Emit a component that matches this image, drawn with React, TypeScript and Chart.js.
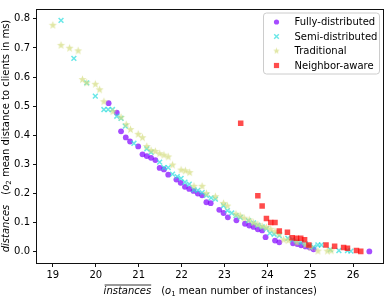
import React, { useEffect, useRef } from "react";
import { Chart, registerables } from "chart.js";

Chart.register(...registerables);

// ---- data ----
const fullyDistributed: [number, number][] = [
  [20.30, 0.510], [20.49, 0.477], [20.59, 0.413], [20.70, 0.392], [20.80, 0.378],
  [20.99, 0.361], [21.09, 0.334], [21.19, 0.328], [21.29, 0.322], [21.39, 0.314],
  [21.49, 0.287], [21.59, 0.282], [21.69, 0.264], [21.88, 0.247], [21.98, 0.236],
  [22.08, 0.222], [22.18, 0.215], [22.28, 0.208], [22.38, 0.199], [22.48, 0.193],
  [22.58, 0.169], [22.68, 0.166], [22.88, 0.143], [22.98, 0.132], [23.08, 0.117],
  [23.28, 0.107], [23.48, 0.095], [23.58, 0.089], [23.68, 0.084], [23.78, 0.076],
  [23.88, 0.072], [23.96, 0.049], [24.18, 0.037], [24.28, 0.031], [24.60, 0.028],
  [24.70, 0.025], [24.79, 0.021], [24.89, 0.017], [24.99, 0.013], [25.08, 0.007],
  [26.38, 0.0],
];

const semiDistributed: [number, number][] = [
  [19.19, 0.795], [19.49, 0.664], [19.79, 0.580], [19.99, 0.534], [20.19, 0.488],
  [20.29, 0.488], [20.39, 0.488], [20.49, 0.465], [20.59, 0.458], [20.69, 0.431],
  [20.89, 0.372], [21.19, 0.353], [21.29, 0.341], [21.49, 0.307], [21.59, 0.288],
  [21.69, 0.288], [21.79, 0.266], [21.90, 0.257], [21.99, 0.251], [22.08, 0.238],
  [22.18, 0.231], [22.29, 0.212], [22.38, 0.210], [22.48, 0.202], [22.58, 0.193],
  [22.69, 0.184], [22.79, 0.180], [22.98, 0.157], [23.07, 0.140], [23.17, 0.132],
  [23.27, 0.123], [23.37, 0.117], [23.56, 0.106], [23.68, 0.098], [23.78, 0.090],
  [23.88, 0.084], [23.98, 0.078], [24.06, 0.063], [24.16, 0.059], [24.28, 0.054],
  [24.48, 0.045], [24.59, 0.040], [24.69, 0.035], [24.79, 0.030], [24.89, 0.026],
  [24.99, 0.020], [25.08, 0.015], [25.18, 0.022], [25.26, 0.022], [25.47, 0.006],
  [25.67, 0.003], [25.87, 0.003], [25.95, 0.001],
];

const traditional: [number, number][] = [
  [19.00, 0.778], [19.19, 0.709], [19.39, 0.699], [19.59, 0.690], [19.69, 0.591],
  [19.79, 0.580], [19.99, 0.575], [20.09, 0.556], [20.19, 0.515], [20.40, 0.481],
  [20.59, 0.461], [20.71, 0.436], [20.81, 0.419], [20.99, 0.403], [21.09, 0.391],
  [21.19, 0.361], [21.29, 0.347], [21.39, 0.344], [21.49, 0.336], [21.59, 0.331],
  [21.69, 0.325], [21.79, 0.297], [21.99, 0.280], [22.09, 0.277], [22.19, 0.271],
  [22.29, 0.224], [22.48, 0.224], [22.58, 0.199], [22.79, 0.188], [22.98, 0.165],
  [23.07, 0.156], [23.27, 0.128], [23.37, 0.122], [23.46, 0.114], [23.58, 0.108],
  [23.68, 0.098], [23.78, 0.092], [23.88, 0.086], [23.98, 0.082], [24.08, 0.076],
  [24.18, 0.068], [24.28, 0.060], [24.38, 0.040], [24.49, 0.037], [24.69, 0.030],
  [24.89, 0.022], [25.01, 0.014], [25.18, 0.001], [25.40, 0.001], [25.49, 0.002],
];

const neighborAware: [number, number][] = [
  [23.38, 0.441], [23.78, 0.191], [23.88, 0.156], [23.98, 0.113], [24.08, 0.099],
  [24.18, 0.099], [24.28, 0.070], [24.47, 0.066], [24.58, 0.047], [24.68, 0.045],
  [24.78, 0.045], [24.87, 0.040], [24.97, 0.022], [25.37, 0.022], [25.57, 0.018],
  [25.78, 0.013], [25.87, 0.011], [26.08, 0.003], [26.18, 0.0],
];

const seriesNames = ["Fully-distributed", "Semi-distributed", "Traditional", "Neighbor-aware"];
const xTicks = [19, 20, 21, 22, 23, 24, 25, 26];
const yTicks = [0, 0.1, 0.2, 0.3, 0.4, 0.5, 0.6, 0.7, 0.8];

const COL_FULLY = "rgba(128,0,255,0.7)";
const COL_SEMI = "rgba(43,221,221,0.7)";
const COL_TRAD = "rgba(212,221,128,0.7)";
const COL_NEIGH = "rgba(255,0,0,0.7)";
const FONT = "'DejaVu Sans', sans-serif";

function makeStar(color: string, outer: number): HTMLCanvasElement {
  const size = Math.ceil(outer * 2 + 2);
  const c = document.createElement("canvas");
  c.width = size;
  c.height = size;
  const ctx = c.getContext("2d")!;
  const cx = size / 2, cy = size / 2;
  const inner = outer * 0.42;
  ctx.beginPath();
  for (let i = 0; i < 10; i++) {
    const r = i % 2 === 0 ? outer : inner;
    const a = -Math.PI / 2 + (i * Math.PI) / 5;
    const px = cx + r * Math.cos(a);
    const py = cy + r * Math.sin(a);
    if (i === 0) ctx.moveTo(px, py);
    else ctx.lineTo(px, py);
  }
  ctx.closePath();
  ctx.fillStyle = color;
  ctx.fill();
  return c;
}

type Seg = { t: string; italic?: boolean; over?: boolean; sub?: boolean; gap?: number };

function drawSegs(ctx: CanvasRenderingContext2D, segs: Seg[], size: number) {
  // draws centered on (0,0) baseline, horizontal
  const fontFor = (s: Seg) =>
    `${s.italic ? "italic " : ""}${s.sub ? Math.round(size * 0.7) : size}px ${FONT}`;
  let total = 0;
  const widths = segs.map((s) => {
    if (s.gap) return s.gap;
    ctx.font = fontFor(s);
    return ctx.measureText(s.t).width;
  });
  widths.forEach((w) => (total += w));
  let x = -total / 2;
  ctx.fillStyle = "#000";
  ctx.textBaseline = "alphabetic";
  ctx.textAlign = "left";
  segs.forEach((s, i) => {
    if (!s.gap) {
      ctx.font = fontFor(s);
      ctx.fillText(s.t, x, s.sub ? size * 0.2 : 0);
      if (s.over) {
        ctx.strokeStyle = "#000";
        ctx.lineWidth = 0.8;
        ctx.beginPath();
        ctx.moveTo(x + 1, -size * 0.9);
        ctx.lineTo(x + widths[i], -size * 0.9);
        ctx.stroke();
      }
    }
    x += widths[i];
  });
}

export default function App() {
  const ref = useRef<HTMLCanvasElement>(null);

  useEffect(() => {
    const canvas = ref.current!;
    const star = makeStar(COL_TRAD, 4.2);
    const starLegend = makeStar(COL_TRAD, 3.4);

    const overlay = {
      id: "overlay",
      afterDraw(chart: any) {
        const ctx = chart.ctx as CanvasRenderingContext2D;
        const a = chart.chartArea;
        ctx.save();
        // frame
        ctx.strokeStyle = "#111";
        ctx.lineWidth = 1;
        ctx.strokeRect(Math.round(a.left) - 0.5, Math.round(a.top) + 0.5, Math.round(a.right - a.left), Math.round(a.bottom - a.top));

        // legend
        const bw = 116, bh = 61;
        const bx = a.right - 4 - bw, by = a.top + 4;
        ctx.beginPath();
        const r = 3;
        ctx.moveTo(bx + r, by);
        ctx.lineTo(bx + bw - r, by);
        ctx.quadraticCurveTo(bx + bw, by, bx + bw, by + r);
        ctx.lineTo(bx + bw, by + bh - r);
        ctx.quadraticCurveTo(bx + bw, by + bh, bx + bw - r, by + bh);
        ctx.lineTo(bx + r, by + bh);
        ctx.quadraticCurveTo(bx, by + bh, bx, by + bh - r);
        ctx.lineTo(bx, by + r);
        ctx.quadraticCurveTo(bx, by, bx + r, by);
        ctx.closePath();
        ctx.fillStyle = "rgba(255,255,255,0.8)";
        ctx.fill();
        ctx.strokeStyle = "#cccccc";
        ctx.lineWidth = 1;
        ctx.stroke();

        const mx = bx + 13;
        const tx = bx + 31;
        seriesNames.forEach((name, i) => {
          const yy = by + 9 + i * 14.5;
          if (i === 0) {
            ctx.fillStyle = COL_FULLY;
            ctx.beginPath();
            ctx.arc(mx, yy, 2.6, 0, Math.PI * 2);
            ctx.fill();
          } else if (i === 1) {
            ctx.strokeStyle = COL_SEMI;
            ctx.lineWidth = 1.4;
            ctx.beginPath();
            ctx.moveTo(mx - 2.3, yy - 2.3);
            ctx.lineTo(mx + 2.3, yy + 2.3);
            ctx.moveTo(mx - 2.3, yy + 2.3);
            ctx.lineTo(mx + 2.3, yy - 2.3);
            ctx.stroke();
          } else if (i === 2) {
            ctx.drawImage(starLegend, mx - starLegend.width / 2, yy - starLegend.height / 2);
          } else {
            ctx.fillStyle = COL_NEIGH;
            ctx.fillRect(mx - 2.6, yy - 2.6, 5.2, 5.2);
          }
          ctx.fillStyle = "#000";
          ctx.font = `10px ${FONT}`;
          ctx.textBaseline = "middle";
          ctx.textAlign = "left";
          ctx.fillText(name, tx, yy + 0.5);
        });

        // x title
        ctx.save();
        ctx.translate((a.left + a.right) / 2, chart.height - 2);
        drawSegs(ctx, [
          { t: "instances", italic: true, over: true },
          { t: "", gap: 10 },
          { t: "(" },
          { t: "o", italic: true },
          { t: "1", sub: true },
          { t: " mean number of instances)" },
        ], 10);
        ctx.restore();

        // y title
        ctx.save();
        ctx.translate(8.5, (a.top + a.bottom) / 2);
        ctx.rotate(-Math.PI / 2);
        drawSegs(ctx, [
          { t: "distances", italic: true, over: true },
          { t: "", gap: 10 },
          { t: "(" },
          { t: "o", italic: true },
          { t: "2", sub: true },
          { t: " mean distance to clients in ms)" },
        ], 10);
        ctx.restore();

        ctx.restore();
      },
    };

    const toPts = (arr: [number, number][]) => arr.map(([x, y]) => ({ x, y }));

    const chart = new Chart(canvas, {
      type: "scatter",
      data: {
        datasets: [
          {
            label: seriesNames[0],
            data: toPts(fullyDistributed),
            pointStyle: "circle",
            pointRadius: 2.9,
            backgroundColor: COL_FULLY,
            borderWidth: 0,
            order: 4,
          },
          {
            label: seriesNames[1],
            data: toPts(semiDistributed),
            pointStyle: "crossRot",
            pointRadius: 3.4,
            borderColor: COL_SEMI,
            backgroundColor: COL_SEMI,
            borderWidth: 1.5,
            order: 3,
          },
          {
            label: seriesNames[2],
            data: toPts(traditional),
            pointStyle: star as any,
            pointRadius: 4,
            backgroundColor: COL_TRAD,
            borderWidth: 0,
            order: 2,
          },
          {
            label: seriesNames[3],
            data: toPts(neighborAware),
            pointStyle: "rect",
            pointRadius: 3.9,
            backgroundColor: COL_NEIGH,
            borderWidth: 0,
            order: 1,
          },
        ],
      },
      options: {
        responsive: false,
        animation: false,
        devicePixelRatio: 1,
        layout: { padding: { top: 2, right: 3, left: 0, bottom: 0 } },
        plugins: { legend: { display: false }, tooltip: { enabled: false } },
        scales: {
          x: {
            type: "linear",
            min: 18.63,
            max: 26.71,
            afterBuildTicks: (s: any) => {
              s.ticks = xTicks.map((v) => ({ value: v }));
            },
            afterFit: (s: any) => {
              s.height = 33;
            },
            ticks: {
              color: "#000",
              font: { family: FONT, size: 10 },
              padding: 2,
              maxRotation: 0,
              callback: (v: any) => String(v),
            },
            grid: { display: true, drawOnChartArea: false, drawTicks: true, tickLength: 4, color: "#111", lineWidth: 1 },
            border: { display: false },
          },
          y: {
            type: "linear",
            min: -0.04,
            max: 0.834,
            afterBuildTicks: (s: any) => {
              s.ticks = yTicks.map((v) => ({ value: v }));
            },
            afterFit: (s: any) => {
              s.width = 37;
            },
            ticks: {
              color: "#000",
              font: { family: FONT, size: 10 },
              padding: 3,
              callback: (v: any) => Number(v).toFixed(1),
            },
            grid: { display: true, drawOnChartArea: false, drawTicks: true, tickLength: 4, color: "#111", lineWidth: 1 },
            border: { display: false },
          },
        },
      },
      plugins: [overlay],
    });

    return () => chart.destroy();
  }, []);

  return (
    <div style={{ position: "fixed", left: 0, top: 0, width: 389, height: 296, background: "#fff" }}>
      <canvas ref={ref} width={389} height={296} style={{ width: 389, height: 296, display: "block" }} />
    </div>
  );
}
